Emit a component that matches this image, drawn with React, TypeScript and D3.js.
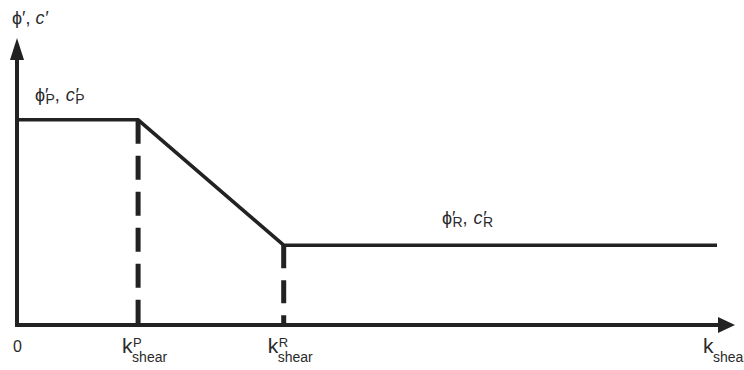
import React from "react";
import * as d3 from "d3";

// Strength parameters against accumulated shear strain (normalised units)
const strainKeys = ["origin", "peak", "residual", "end"];
const strainValues = [0, 0.173, 0.381, 1.0];
const strengthValues = [0.72, 0.72, 0.28, 0.28];

// Axis tick labels: main symbol + superscript
const xTickLabels = [
  { at: 0.173, sup: "P" },
  { at: 0.381, sup: "R" },
];

const W = 744;
const H = 370;
const ink = "#222";
const textInk = "#2a2a2a";
const font = "'Liberation Sans', Arial, sans-serif";
const PHI = "\u03D5";

export default function App() {
  const x = d3.scaleLinear().domain([0, 1]).range([17, 717]);
  const y = d3.scaleLinear().domain([0, 1]).range([325, 40]);

  const pts = strainKeys.map((k, i) => ({ k, s: strainValues[i], v: strengthValues[i] }));
  const line = d3
    .line<{ s: number; v: number }>()
    .x((d) => x(d.s))
    .y((d) => y(d.v));

  const x0 = x(0);
  const y0 = y(0);
  const xTip = x(1) + 18;
  const yTip = y(1) - 2;
  const peak = pts[1];
  const resid = pts[2];

  const strengthLabel = (sub: string) => (
    <>
      {PHI}
      <tspan>′</tspan>
      <tspan dx={-3} dy={3} fontSize={14}>{sub}</tspan>
      <tspan dy={-3}>, </tspan>
      <tspan dx={1} fontStyle="italic">c′</tspan>
      <tspan dx={-3} dy={3} fontSize={14}>{sub}</tspan>
    </>
  );

  return (
    <svg
      width={W}
      height={H}
      viewBox={`0 0 ${W} ${H}`}
      style={{ position: "absolute", left: 0, top: 0, background: "#fff" }}
      fontFamily={font}
    >
      {/* strength curve */}
      <path d={line(pts) ?? ""} fill="none" stroke={ink} strokeWidth={3.5} strokeLinejoin="miter" />

      {/* dashed markers at peak and residual strain */}
      <line
        x1={x(peak.s)}
        x2={x(peak.s)}
        y1={y(peak.v)}
        y2={y0}
        stroke={ink}
        strokeWidth={5}
        strokeDasharray="24 12"
      />
      <line
        x1={x(resid.s)}
        x2={x(resid.s)}
        y1={y(resid.v)}
        y2={y0}
        stroke={ink}
        strokeWidth={5}
        strokeDasharray="23 12"
      />

      {/* axes */}
      <line x1={x0} x2={xTip - 16} y1={y0} y2={y0} stroke={ink} strokeWidth={4} />
      <line x1={x0} x2={x0} y1={y0 + 2} y2={yTip + 20} stroke={ink} strokeWidth={4} />
      <path d={`M${xTip},${y0} L${xTip - 17},${y0 - 8} L${xTip - 17},${y0 + 8} Z`} fill={ink} />
      <path d={`M${x0},${yTip} L${x0 - 7},${yTip + 22} L${x0 + 7},${yTip + 22} Z`} fill={ink} />

      {/* y axis title */}
      <text x={12} y={24} fontSize={18} fill={textInk}>
        {PHI}
        <tspan>′</tspan>
        <tspan>, </tspan>
        <tspan fontStyle="italic">c′</tspan>
      </text>

      {/* peak strength label */}
      <text x={x0 + 18} y={y(peak.v) - 19} fontSize={18} fill={textInk}>
        {strengthLabel("P")}
      </text>

      {/* residual strength label */}
      <text x={442} y={y(resid.v) - 21} fontSize={18} fill={textInk}>
        {strengthLabel("R")}
      </text>

      {/* x tick labels */}
      <text x={x0 - 4} y={352} fontSize={16} fill={textInk}>
        0
      </text>
      {xTickLabels.map((t) => {
        const px = x(t.at) - 16;
        return (
          <g key={t.sup} fill={textInk}>
            <text x={px} y={353} fontSize={21}>k</text>
            <text x={px + 11} y={347} fontSize={13}>{t.sup}</text>
            <text x={px + 10} y={362} fontSize={14}>shear</text>
          </g>
        );
      })}
      {/* x axis title, running off the right edge */}
      <g fill={textInk}>
        <text x={703} y={353} fontSize={21}>k</text>
        <text x={713} y={362} fontSize={14}>shear</text>
      </g>
    </svg>
  );
}
